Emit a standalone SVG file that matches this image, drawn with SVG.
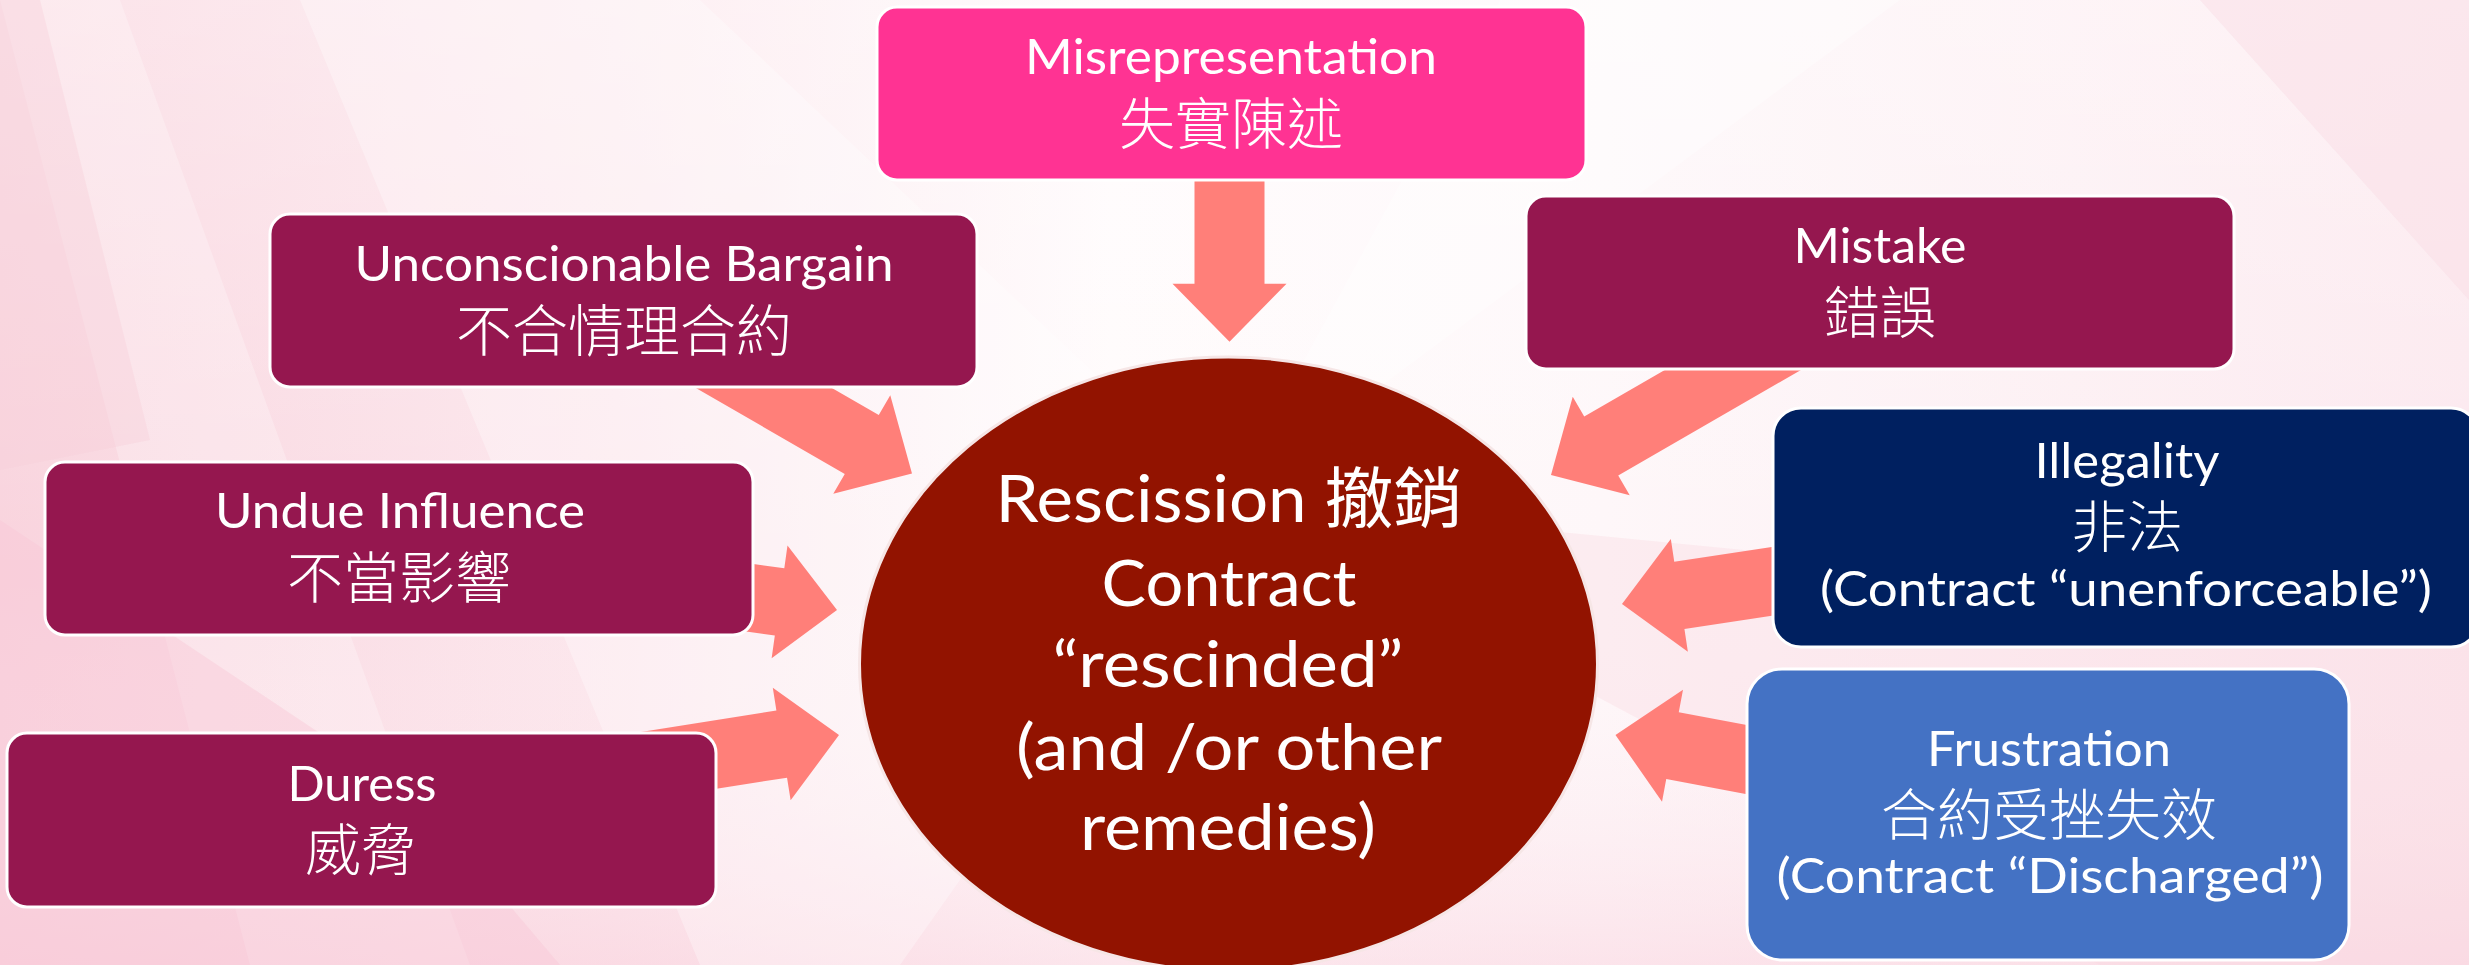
<svg xmlns="http://www.w3.org/2000/svg" width="2469" height="965" viewBox="0 0 2469 965">
<defs>
<style>
.box{stroke:#ffffff;stroke-width:3}
.mag{fill:#95174F}
.lat{font-family:Lato,"Noto Sans","Noto Sans CJK TC",sans-serif;fill:#ffffff;text-anchor:middle}
.cjk{font-family:"Noto Sans CJK TC","Noto Sans CJK SC",sans-serif;fill:#ffffff;text-anchor:middle;font-size:56px;font-weight:300}
.arrow{fill:#FF7F79}
.t49{font-size:49px}
.t64{font-size:64px}
</style>
<linearGradient id="bg" x1="0" y1="0" x2="1" y2="0">
<stop offset="0" stop-color="#F9D3DD"/>
<stop offset="0.25" stop-color="#FCE6EC"/>
<stop offset="0.45" stop-color="#FFFBFC"/>
<stop offset="0.65" stop-color="#FEF7F9"/>
<stop offset="1" stop-color="#FCE8EE"/>
</linearGradient>
<linearGradient id="bgv" x1="0" y1="0" x2="0" y2="1">
<stop offset="0" stop-color="#ffffff" stop-opacity="0.35"/>
<stop offset="0.6" stop-color="#ffffff" stop-opacity="0"/>
<stop offset="1" stop-color="#F9D0DC" stop-opacity="0.5"/>
</linearGradient>
</defs>

<g id="background">
<rect x="0" y="0" width="2469" height="965" fill="url(#bg)"/>
<rect x="0" y="0" width="2469" height="965" fill="url(#bgv)"/>
<polygon points="0,0 120,0 470,965 250,965" fill="#ffffff" opacity="0.25"/>
<polygon points="0,520 420,800 560,965 0,965" fill="#F8C8D6" opacity="0.45"/>
<polygon points="300,0 700,0 1228,500 900,965 700,965" fill="#ffffff" opacity="0.3"/>
<polygon points="1228,500 1500,0 1900,0" fill="#ffffff" opacity="0.35"/>
<polygon points="1228,500 2469,620 2469,965 2100,965" fill="#F9D6E0" opacity="0.35"/>
<polygon points="0,0 40,0 150,440 0,470" fill="#F7CFDA" opacity="0.4"/>
<polygon points="2200,0 2469,0 2469,300" fill="#F9DEE6" opacity="0.5"/>
</g>

<g id="connectors">
<polygon class="arrow" transform="translate(1229.5,341.7) rotate(90)" points="0,0 -58,-57 -58,-35 -165,-35 -165,35 -58,35 -58,57"/>
<polygon class="arrow" transform="translate(912,473.5) rotate(30)" points="0,0 -58,-57 -58,-34 -260,-34 -260,34 -58,34 -58,57"/>
<polygon class="arrow" transform="translate(837,610) rotate(8)" points="0,0 -58,-57 -58,-34 -150,-34 -150,34 -58,34 -58,57"/>
<polygon class="arrow" transform="translate(839,735) rotate(-9)" points="0,0 -58,-57 -58,-34 -200,-34 -200,34 -58,34 -58,57"/>
<polygon class="arrow" transform="translate(1551,475) rotate(150)" points="0,0 -58,-57 -58,-34 -300,-34 -300,34 -58,34 -58,57"/>
<polygon class="arrow" transform="translate(1622,604) rotate(171.4)" points="0,0 -58,-57 -58,-34 -200,-34 -200,34 -58,34 -58,57"/>
<polygon class="arrow" transform="translate(1615.5,735) rotate(190.6)" points="0,0 -58,-57 -58,-34 -200,-34 -200,34 -58,34 -58,57"/>
</g>

<g id="node-misrepresentation">
<rect class="box" x="877" y="7" width="709" height="173" rx="20" fill="#FF3393"/>
<text class="lat t49" x="1231" y="74" textLength="412" lengthAdjust="spacingAndGlyphs">Misrepresentation</text>
<text class="cjk" x="1231" y="144">失實陳述</text>
</g>

<g id="node-unconscionable">
<rect class="box mag" x="270" y="214" width="707" height="173" rx="20"/>
<text class="lat t49" x="624" y="281" textLength="539" lengthAdjust="spacingAndGlyphs">Unconscionable Bargain</text>
<text class="cjk" x="624" y="351">不合情理合約</text>
</g>

<g id="node-undue">
<rect class="box mag" x="45" y="462" width="708" height="173" rx="20"/>
<text class="lat t49" x="400" y="528" textLength="370" lengthAdjust="spacingAndGlyphs">Undue Influence</text>
<text class="cjk" x="399" y="598">不當影響</text>
</g>

<g id="node-duress">
<rect class="box mag" x="7" y="733" width="709" height="174" rx="20"/>
<text class="lat t49" x="362" y="801" textLength="149" lengthAdjust="spacingAndGlyphs">Duress</text>
<text class="cjk" x="361" y="870">威脅</text>
</g>

<g id="node-mistake">
<rect class="box mag" x="1526" y="196" width="708" height="173" rx="20"/>
<text class="lat t49" x="1880" y="263" textLength="173" lengthAdjust="spacingAndGlyphs">Mistake</text>
<text class="cjk" x="1880" y="333">錯誤</text>
</g>

<g id="node-illegality">
<rect class="box" x="1773" y="408" width="706" height="239" rx="28" fill="#002060"/>
<text class="lat t49" x="2127" y="478" textLength="185" lengthAdjust="spacingAndGlyphs">Illegality</text>
<text class="cjk" x="2127" y="547">非法</text>
<text class="lat t49" x="2126" y="606" textLength="612" lengthAdjust="spacingAndGlyphs">(Contract “unenforceable”)</text>
</g>

<g id="node-frustration">
<rect class="box" x="1747" y="669" width="602" height="291" rx="35" fill="#4472C4"/>
<text class="lat t49" x="2049" y="766" textLength="244" lengthAdjust="spacingAndGlyphs">Frustration</text>
<text class="cjk" x="2049" y="835">合約受挫失效</text>
<text class="lat t49" x="2050" y="893" textLength="547" lengthAdjust="spacingAndGlyphs">(Contract “Discharged”)</text>
</g>

<g id="node-rescission">
<ellipse cx="1228.5" cy="664" rx="369" ry="307" fill="#921300" stroke="#F6E6E6" stroke-width="3"/>
<text class="lat" x="1229" y="522" style="font-size:66px" textLength="467" lengthAdjust="spacingAndGlyphs">Rescission 撤銷</text>
<text class="lat t64" x="1229" y="606" textLength="255" lengthAdjust="spacingAndGlyphs">Contract</text>
<text class="lat t64" x="1228" y="687" textLength="351" lengthAdjust="spacingAndGlyphs">“rescinded”</text>
<text class="lat t64" x="1229" y="770" textLength="426" lengthAdjust="spacingAndGlyphs">(and /or other</text>
<text class="lat t64" x="1228" y="850" textLength="296" lengthAdjust="spacingAndGlyphs">remedies)</text>
</g>
</svg>
